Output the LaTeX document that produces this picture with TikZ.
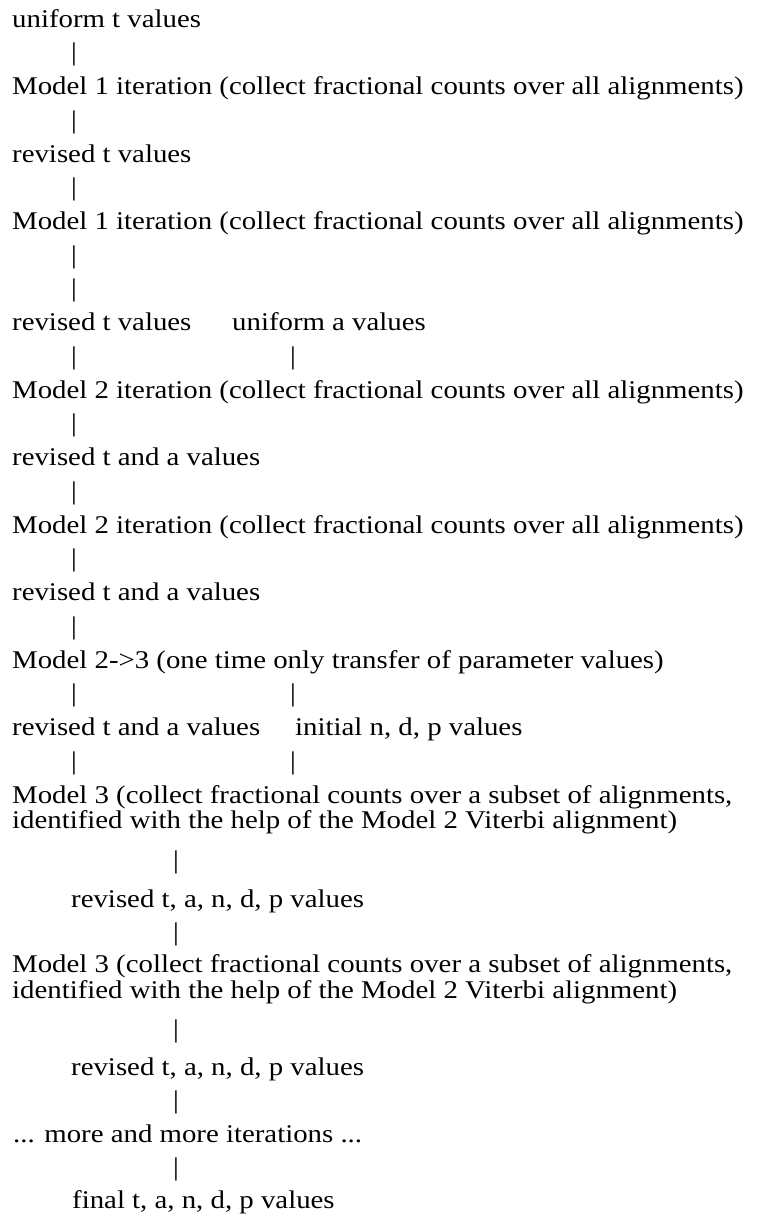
\documentclass[tikz,border=0pt]{standalone}
\usepackage{fontspec}
\setmainfont[FakeStretch=1.13]{Liberation Serif}
\begin{document}
\begin{tikzpicture}[x=1pt,y=-1pt,
  txt/.style={anchor=base west,inner sep=0pt,font=\fontsize{25.5}{30}\selectfont},
  bar/.style={anchor=base,inner sep=0pt,font=\fontsize{25.5}{30}\selectfont}]
\useasboundingbox (0,0) rectangle (758,1216);
\fill[white] (0,0) rectangle (758,1216);
% column 1
\node[txt] (l1) at (12,27.0) {uniform t values};
\node[bar] (b2) at (74,60.7) {|};
\node[txt] (l3) at (12,94.5) {Model 1 iteration (collect fractional counts over all alignments)};
\node[bar] (b4) at (74,128.2) {|};
\node[txt] (l5) at (12,162.0) {revised t values};
\node[bar] (b6) at (74,195.7) {|};
\node[txt] (l7) at (12,229.4) {Model 1 iteration (collect fractional counts over all alignments)};
\node[bar] (b8) at (74,263.2) {|};
\node[bar] (b9) at (74,296.9) {|};
\node[txt] (l10) at (12,330.7) {revised t values};
\node[txt] (l10b) at (232,330.7) {uniform a values};
\node[bar] (b11) at (74,364.4) {|};
\node[bar] (b11b) at (293,364.4) {|};
\node[txt] (l12) at (12,398.1) {Model 2 iteration (collect fractional counts over all alignments)};
\node[bar] (b13) at (74,431.9) {|};
\node[txt] (l14) at (12,465.6) {revised t and a values};
\node[bar] (b15) at (74,499.4) {|};
\node[txt] (l16) at (12,533.1) {Model 2 iteration (collect fractional counts over all alignments)};
\node[bar] (b17) at (74,566.8) {|};
\node[txt] (l18) at (12,600.6) {revised t and a values};
\node[bar] (b19) at (74,634.3) {|};
\node[txt] (l20) at (12,668.1) {Model 2->3 (one time only transfer of parameter values)};
\node[bar] (b21) at (74,701.8) {|};
\node[bar] (b21b) at (293,701.8) {|};
\node[txt] (l22) at (12,735.5) {revised t and a values};
\node[txt] (l22b) at (295,735.5) {initial n, d, p values};
\node[bar] (b23) at (74,769.3) {|};
\node[bar] (b23b) at (293,769.3) {|};
\node[txt] (l24) at (12,803) {Model 3 (collect fractional counts over a subset of alignments,};
\node[txt] (l25) at (12,828) {identified with the help of the Model 2 Viterbi alignment)};
\node[bar] (b26) at (176,868) {|};
\node[txt] (l27) at (71,907) {revised t, a, n, d, p values};
\node[bar] (b28) at (176,940) {|};
\node[txt] (l29) at (12,972) {Model 3 (collect fractional counts over a subset of alignments,};
\node[txt] (l30) at (12,998) {identified with the help of the Model 2 Viterbi alignment)};
\node[bar] (b31) at (176,1037) {|};
\node[txt] (l32) at (71,1075) {revised t, a, n, d, p values};
\node[bar] (b33) at (176,1108) {|};
\node[txt] (l34) at (13,1142) {... more and more iterations ...};
\node[bar] (b35) at (176,1175) {|};
\node[txt] (l36) at (72,1208) {final t, a, n, d, p values};
\end{tikzpicture}
\end{document}
